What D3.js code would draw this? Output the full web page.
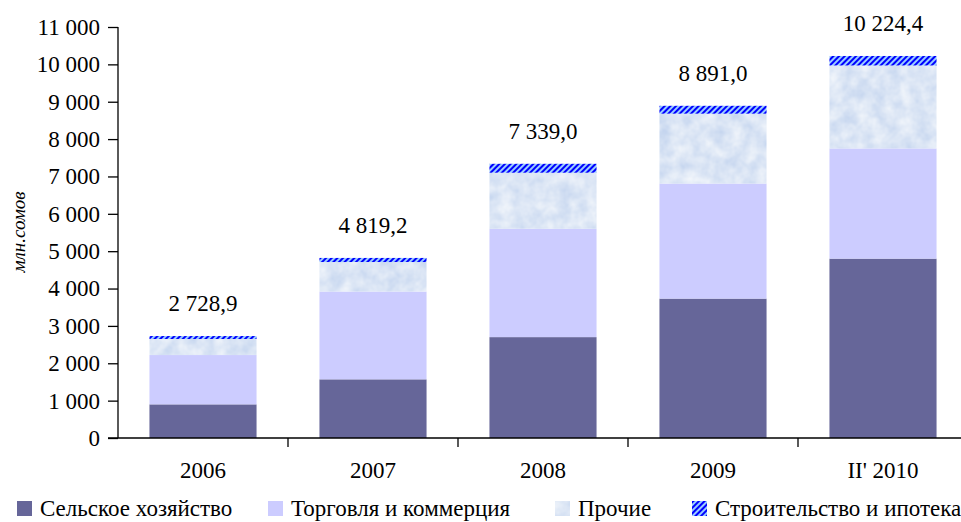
<!DOCTYPE html>
<html>
<head>
<meta charset="utf-8">
<script src="https://cdn.jsdelivr.net/npm/d3@7"></script>
<style>
  body { margin: 0; background: #fff; }
  svg { display: block; }
  svg text { font-family: "Liberation Serif", "Times New Roman", serif; fill: #000; }
</style>
</head>
<body>
<svg id="chart" width="961" height="522"></svg>
<script>
// data
const years = ['2006', '2007', '2008', '2009', "II' 2010"]
const agriculture = [900, 1570, 2700, 3730, 4800]
const trade = [1320, 2350, 2900, 3080, 2950]
const other = [430, 790, 1500, 1870, 2220]
const construction = [78.9, 109.2, 239.0, 211.0, 254.4]
const totals = [2728.9, 4819.2, 7339.0, 8891.0, 10224.4]
const seriesNames = ['Сельское хозяйство', 'Торговля и коммерция', 'Прочие', 'Строительство и ипотека']
const yTicks = d3.range(0, 11001, 1000)

const locale = d3.formatLocale({decimal: ',', thousands: ' ', grouping: [3], currency: ['', '']})
const fmtTick = locale.format(',.0f')
const fmtTotal = locale.format(',.1f')

const fontSize = 23
const svg = d3.select('#chart')
const defs = svg.append('defs')

// hatch for construction
const hatch = defs.append('pattern')
    .attr('id', 'hatch')
    .attr('patternUnits', 'userSpaceOnUse')
    .attr('width', 4)
    .attr('height', 4)
    .attr('patternTransform', 'rotate(45)')
hatch.append('rect').attr('width', 4).attr('height', 4).attr('fill', '#99ccff')
hatch.append('rect').attr('width', 2).attr('height', 4).attr('fill', '#0000ff')

// speckled light-blue texture for "Прочие"
const tex = defs.append('filter')
    .attr('id', 'tex')
    .attr('color-interpolation-filters', 'sRGB')
    .attr('x', 0).attr('y', 0).attr('width', 1).attr('height', 1)
tex.append('feTurbulence')
    .attr('type', 'fractalNoise')
    .attr('baseFrequency', 0.07)
    .attr('numOctaves', 3)
    .attr('seed', 4)
    .attr('result', 'noise')
tex.append('feColorMatrix')
    .attr('in', 'noise')
    .attr('type', 'matrix')
    .attr('values', '0.22 0 0 0 0.75  0.16 0 0 0 0.82  0.06 0 0 0 0.93  0 0 0 0 1')
    .attr('result', 'col')
tex.append('feComposite')
    .attr('in', 'col')
    .attr('in2', 'SourceGraphic')
    .attr('operator', 'in')

const colors = ['#666699', '#ccccff', '#d9e6f5', 'url(#hatch)']

const x = d3.scaleBand()
    .domain(years)
    .range([118, 968])
    .paddingInner(0.37)
    .paddingOuter(0.185)

const y = d3.scaleLinear()
    .domain([0, 11000])
    .range([438, 27])

const rows = years.map((yr, i) => ({
    year: yr,
    agriculture: agriculture[i],
    trade: trade[i],
    other: other[i],
    construction: construction[i]
}))
const keys = ['agriculture', 'trade', 'other', 'construction']
const stacked = d3.stack().keys(keys)(rows)

const layers = svg.append('g')
    .selectAll('g')
    .data(stacked)
    .enter()
    .append('g')
    .attr('fill', (d, i) => colors[i])

layers.selectAll('rect')
    .data((d, i) => d.map(v => Object.assign(v, {layer: i})))
    .enter()
    .append('rect')
    .attr('x', d => x(d.data.year))
    .attr('width', x.bandwidth())
    .attr('y', d => y(d[1]))
    .attr('height', d => y(d[0]) - y(d[1]))
    .attr('filter', d => d.layer === 2 ? 'url(#tex)' : null)

// totals above bars
svg.append('g')
    .selectAll('text')
    .data(years)
    .enter()
    .append('text')
    .attr('x', d => x(d) + x.bandwidth() / 2)
    .attr('y', (d, i) => y(totals[i]) - 25)
    .attr('text-anchor', 'middle')
    .attr('font-size', fontSize)
    .text((d, i) => fmtTotal(totals[i]))

// y axis
const yAxis = svg.append('g')
    .attr('transform', 'translate(118,0)')
    .call(d3.axisLeft(y).tickValues(yTicks).tickFormat(fmtTick).tickSize(10).tickPadding(8))
yAxis.attr('font-family', null)
yAxis.select('.domain').attr('stroke', '#000').attr('stroke-width', 1.3).attr('d', 'M0,' + y(11000) + 'V' + y(0))
yAxis.selectAll('.tick line').attr('stroke-width', 1.3)
yAxis.selectAll('text').attr('font-size', fontSize)

// x axis
const xAxis = svg.append('g')
    .attr('transform', 'translate(0,' + y(0) + ')')
    .call(d3.axisBottom(x).tickSize(0).tickPadding(24))
xAxis.attr('font-family', null)
xAxis.select('.domain').attr('stroke', '#000').attr('stroke-width', 1.3).attr('d', 'M108,0H968')
xAxis.selectAll('text').attr('font-size', fontSize)
xAxis.selectAll('line.sep')
    .data(years.slice(1))
    .enter()
    .append('line')
    .attr('class', 'sep')
    .attr('x1', d => x(d) - x.step() * x.paddingInner() / 2)
    .attr('x2', d => x(d) - x.step() * x.paddingInner() / 2)
    .attr('y1', 0)
    .attr('y2', 9)
    .attr('stroke', '#000')
    .attr('stroke-width', 1.3)

// y axis title
svg.append('text')
    .attr('transform', 'translate(25,232) rotate(-90)')
    .attr('text-anchor', 'middle')
    .attr('font-style', 'italic')
    .attr('font-size', 19)
    .text('млн.сомов')

// legend
const legendX = [17, 268, 555, 692]
const legend = svg.append('g')
    .selectAll('g')
    .data(seriesNames)
    .enter()
    .append('g')
    .attr('transform', (d, i) => 'translate(' + legendX[i] + ',501)')
legend.append('rect')
    .attr('width', 15)
    .attr('height', 15)
    .attr('fill', (d, i) => colors[i])
    .attr('filter', (d, i) => i === 2 ? 'url(#tex)' : null)
legend.append('text')
    .attr('x', 23)
    .attr('y', 15)
    .attr('font-size', fontSize)
    .text(d => d)
</script>
</body>
</html>
